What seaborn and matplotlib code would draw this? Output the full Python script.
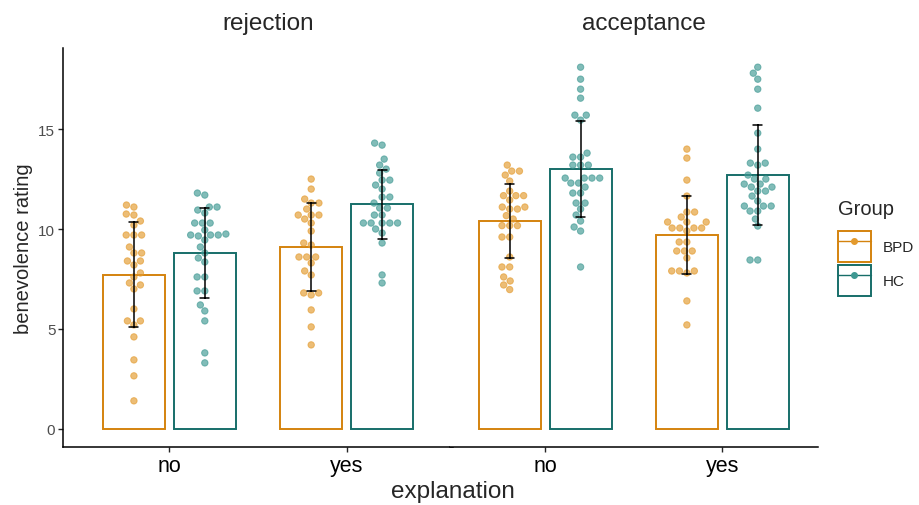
"""
Benevolence rating by explanation, feedback type and group.
Bars = group means (outline only), error bars = SD, dots = individual ratings.
"""

import pandas as pd
import matplotlib.pyplot as plt
import seaborn as sns
from matplotlib.patches import Patch
from matplotlib.lines import Line2D
from matplotlib.legend_handler import HandlerTuple

#####################################
## Data
#####################################

feedback_levels = ['rejection', 'acceptance']
explanation_levels = ['no', 'yes']
group_levels = ['BPD', 'HC']

rej_no_bpd = [11.2, 11.1, 10.75, 10.7, 10.4, 10.2, 9.7, 9.7, 9.7, 9.1, 8.8, 8.8, 8.4, 8.4,
              8.2, 7.8, 7.6, 7.3, 7.2, 7.0, 6.0, 5.4, 5.4, 5.2, 4.6, 3.45, 2.65, 1.4]
rej_no_hc = [11.8, 11.7, 11.1, 11.1, 10.95, 10.8, 10.3, 10.3, 10.3, 9.95, 9.75, 9.7, 9.7, 9.65,
             9.7, 9.45, 9.1, 8.8, 8.55, 8.35, 7.6, 7.6, 6.9, 6.9, 6.2, 5.9, 5.4, 3.8, 3.3]
rej_yes_bpd = [12.5, 12.0, 11.5, 11.3, 11.3, 11.0, 10.7, 10.7, 10.7, 10.5, 10.3, 9.9, 9.3,
               9.2, 8.6, 8.6, 8.6, 8.3, 7.9, 7.7, 6.8, 6.8, 6.7, 5.95, 5.1, 4.2]
rej_yes_hc = [14.3, 14.2, 13.5, 13.2, 13.0, 12.8, 12.45, 12.45, 12.2, 12.0, 11.6, 11.6, 11.3,
              11.05, 11.05, 10.7, 10.7, 10.3, 10.3, 10.3, 10.3, 10.3, 10.0, 9.8, 9.3, 7.7, 7.3]
acc_no_bpd = [13.2, 12.9, 12.9, 12.7, 12.4, 11.9, 11.67, 11.67, 11.67, 11.45, 11.1, 11.1, 11.0,
              11.0, 10.67, 10.5, 10.17, 10.17, 10.17, 9.6, 9.6, 8.6, 8.1, 8.1, 7.6, 7.4, 7.2, 6.97]
acc_no_hc = [18.1, 17.5, 17.0, 16.55, 15.7, 15.7, 15.45, 13.8, 13.6, 13.6, 13.2, 13.2, 13.2,
             12.55, 12.55, 12.55, 12.55, 12.3, 12.3, 12.1, 11.8, 11.8, 11.3, 11.3, 11.0, 10.7,
             10.4, 10.1, 9.9, 8.1]
acc_yes_bpd = [14.0, 13.55, 12.45, 11.65, 10.85, 10.85, 10.6, 10.35, 10.35, 10.35, 10.05, 10.05,
               10.05, 10.05, 9.9, 9.35, 9.35, 8.9, 8.9, 8.9, 8.55, 7.9, 7.9, 7.9, 7.8, 6.4, 5.2]
acc_yes_hc = [18.1, 17.8, 17.5, 17.0, 16.05, 14.8, 14.0, 13.3, 13.3, 13.2, 12.7, 12.5, 12.5,
              12.25, 12.25, 12.1, 12.1, 11.9, 11.9, 11.65, 11.4, 11.15, 11.15, 11.15, 10.9, 10.9,
              10.5, 10.15, 8.45, 8.45]

cells = {
    ('rejection', 'no', 'BPD'): rej_no_bpd,
    ('rejection', 'no', 'HC'): rej_no_hc,
    ('rejection', 'yes', 'BPD'): rej_yes_bpd,
    ('rejection', 'yes', 'HC'): rej_yes_hc,
    ('acceptance', 'no', 'BPD'): acc_no_bpd,
    ('acceptance', 'no', 'HC'): acc_no_hc,
    ('acceptance', 'yes', 'BPD'): acc_yes_bpd,
    ('acceptance', 'yes', 'HC'): acc_yes_hc,
}

rows = []
for (fb, expl, grp), vals in cells.items():
    for v in vals:
        rows.append({'feedback': fb, 'explanation': expl, 'Group': grp, 'rating': v})
df = pd.DataFrame(rows)

#####################################
## Style
#####################################

bar_colors = {'BPD': '#D4830E', 'HC': '#176E69'}
dot_colors = {'BPD': '#E39A2D', 'HC': '#3E9892'}

sns.set_theme(style='ticks')
plt.rcParams['font.family'] = ['Liberation Sans', 'DejaVu Sans']

fig = plt.figure(figsize=(9.19, 5.06), dpi=100)
ax_left = fig.add_axes([63 / 919, 1 - 448 / 506, 390 / 919, 399 / 506])
ax_right = fig.add_axes([450 / 919, 1 - 448 / 506, 368 / 919, 399 / 506], sharey=ax_left)

xlims = {'rejection': (-0.6, 1.6), 'acceptance': (-0.537, 1.54)}

for ax, fb in zip([ax_left, ax_right], feedback_levels):
    sub = df[df['feedback'] == fb]

    sns.barplot(data=sub, x='explanation', y='rating', hue='Group',
                order=explanation_levels, hue_order=group_levels,
                palette=bar_colors, fill=False, linewidth=1.4, gap=0.125,
                errorbar='sd', capsize=0.1,
                err_kws={'color': 'black', 'linewidth': 1.1, 'zorder': 5},
                legend=False, ax=ax)

    sns.swarmplot(data=sub, x='explanation', y='rating', hue='Group',
                  order=explanation_levels, hue_order=group_levels,
                  palette=dot_colors, dodge=True, size=4.6, alpha=0.65,
                  linewidth=0.7, legend=False, ax=ax)
    for coll in ax.collections:
        coll.set_edgecolor(coll.get_facecolor())
        coll.set_zorder(3)

    ax.set_xlim(*xlims[fb])
    ax.set_title(fb, fontsize=17.5, pad=14, x=0.527)
    ax.set_xlabel('')
    ax.tick_params(axis='x', labelsize=15.5, labelcolor='black', length=3.5, width=1, pad=2)
    for side in ['top', 'right']:
        ax.spines[side].set_visible(False)
    ax.spines['bottom'].set_linewidth(1.1)
    ax.spines['left'].set_linewidth(1.1)
    ax.spines['bottom'].set_color('black')
    ax.spines['left'].set_color('black')

ax_left.set_ylim(-0.91, 19.06)
ax_left.set_yticks([0, 5, 10, 15])
ax_left.tick_params(axis='y', labelsize=11, labelcolor='#4D4D4D', length=3.5, width=1, pad=2)
ax_left.set_ylabel('benevolence rating', fontsize=14.5, labelpad=4)

ax_right.spines['left'].set_visible(False)
ax_right.tick_params(axis='y', left=False, labelleft=False)
ax_right.set_ylabel('')

fig.text(453 / 919, 1 - 492 / 506, 'explanation', fontsize=17.5, ha='center', va='center')

# Legend: outlined key box with a small point-range inside
handles = [
    (Patch(facecolor='white', edgecolor=bar_colors[g], linewidth=1.4),
     Line2D([0], [0], color=bar_colors[g], linewidth=1, marker='o', markersize=4,
            markerfacecolor=dot_colors[g], markeredgecolor=dot_colors[g]))
    for g in group_levels
]
leg = fig.legend(handles, group_levels, title='Group', loc='upper left',
                 bbox_to_anchor=(0.9, 0.625), frameon=False, fontsize=11,
                 title_fontsize=14.5, handlelength=2.15, handleheight=2.76,
                 labelspacing=0.17, handletextpad=0.8, borderpad=0.2,
                 handler_map={tuple: HandlerTuple(ndivide=1)})
leg._legend_box.align = 'left'
leg._legend_box.sep = 9

plt.savefig('out.png', dpi=100)
